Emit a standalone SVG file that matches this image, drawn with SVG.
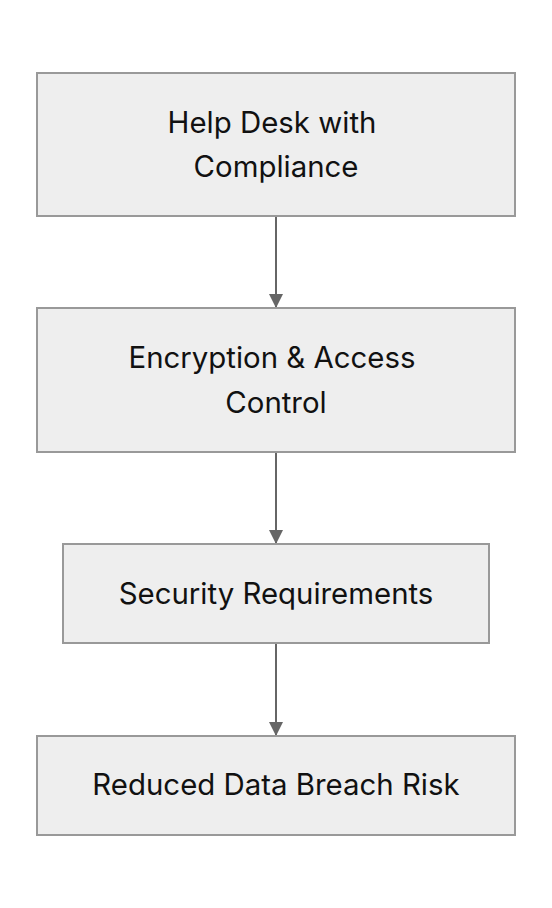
<svg xmlns="http://www.w3.org/2000/svg" width="552" height="908" viewBox="0 0 552 908">
<style>
.node rect{fill:#eeeeee;stroke:#999999;stroke-width:2}
.node text{font-family:Inter,"Liberation Sans",sans-serif;font-size:29.4px;fill:#111111;text-anchor:middle}
.edge{stroke:#666666;stroke-width:2;fill:none}
</style>
<defs>
<marker id="ah" viewBox="0 0 10 10" refX="10" refY="5" markerWidth="7" markerHeight="7" orient="auto" markerUnits="strokeWidth">
<path d="M0,0 L10,5 L0,10 z" fill="#666666"/>
</marker>
</defs>
<rect width="552" height="908" fill="#ffffff"/>
<g id="connectors">
<line class="edge" x1="276" y1="216" x2="276" y2="308" marker-end="url(#ah)"/>
<line class="edge" x1="276" y1="452" x2="276" y2="544" marker-end="url(#ah)"/>
<line class="edge" x1="276" y1="643" x2="276" y2="736" marker-end="url(#ah)"/>
</g>
<g id="n1" class="node">
<rect x="37" y="73" width="478" height="143"/>
<text x="272" y="133">Help Desk with</text>
<text x="276" y="177">Compliance</text>
</g>
<g id="n2" class="node">
<rect x="37" y="308" width="478" height="144"/>
<text x="272" y="368">Encryption &amp; Access</text>
<text x="276" y="413">Control</text>
</g>
<g id="n3" class="node">
<rect x="63" y="544" width="426" height="99"/>
<text x="276" y="604">Security Requirements</text>
</g>
<g id="n4" class="node">
<rect x="37" y="736" width="478" height="99"/>
<text x="276" y="795">Reduced Data Breach Risk</text>
</g>
</svg>
